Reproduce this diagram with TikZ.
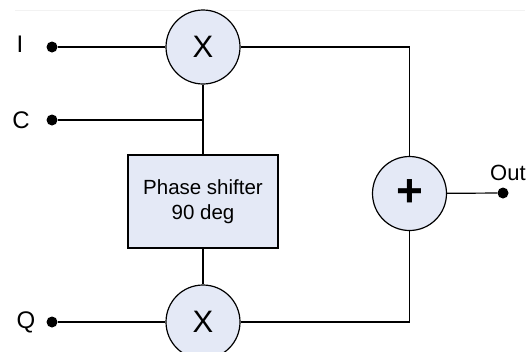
\documentclass[tikz,border=0pt]{standalone}
\usepackage{fontspec}
\setmainfont{Liberation Sans}
\definecolor{blockfill}{RGB}{228,233,246}
\definecolor{rulegray}{RGB}{242,242,242}
\begin{document}
\begin{tikzpicture}[
  x=1pt, y=-1pt,
  font=\fontsize{24}{28}\selectfont,
  mixer/.style={draw, circle, line width=1.2pt, fill=blockfill, minimum size=74pt, inner sep=0pt, font=\fontsize{31}{32}\selectfont},
  shiftbox/.style={draw, line width=1.2pt, fill=blockfill, minimum width=150pt, minimum height=93pt, align=center, font=\fontsize{20.5}{25}\selectfont},
  port/.style={circle, fill, minimum size=11pt, inner sep=0pt},
  portlabel/.style={anchor=base, inner sep=0pt},
  wire/.style={line width=1.2pt}
]
\clip (0,0) rectangle (532,351);
\draw[rulegray, line width=0.8pt] (15,10) -- (525,10);
\node[mixer] (mixI) at (203,47) {X};
\node[mixer] (mixQ) at (203,322) {X};
\node[shiftbox] (shifter) at (203,201.5) {Phase shifter\\90 deg};
\node[mixer, font=\fontsize{46}{46}\selectfont\bfseries] (adder) at (409.5,193.5) {+};
\node[port] (inI) at (52,47) {};
\node[port] (inC) at (52,120) {};
\node[port] (inQ) at (52,322) {};
\node[port] (out) at (503,193) {};
\node[portlabel] (labI) at (20,52) {I};
\node[portlabel] (labC) at (21,128) {C};
\node[portlabel] (labQ) at (26,328) {Q};
\node[portlabel, anchor=base west, font=\fontsize{22}{26}\selectfont] (labOut) at (490,180) {Out};
\coordinate (junc) at (203,120);
\draw[wire] (inI) -- (mixI);
\draw[wire] (inQ) -- (mixQ);
\draw[wire] (inC) -- (junc);
\draw[wire] (mixI) -- (shifter);
\draw[wire] (shifter) -- (mixQ);
\draw[wire] (mixI.east) -| (adder.north);
\draw[wire] (mixQ.east) -| (adder.south);
\draw[wire] (adder) -- (out);
\end{tikzpicture}
\end{document}
